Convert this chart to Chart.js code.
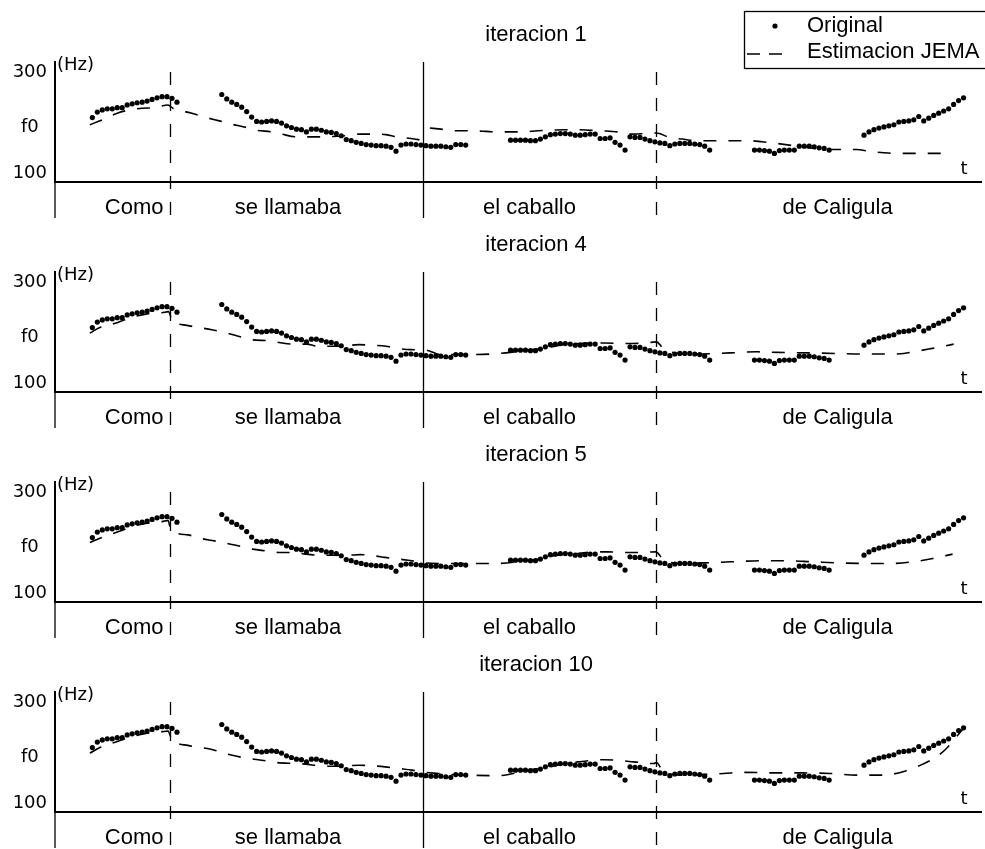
<!DOCTYPE html>
<html>
<head>
<meta charset="utf-8">
<script src="https://cdn.jsdelivr.net/npm/chart.js@4.4.0/dist/chart.umd.min.js"></script>
<style>
  body { margin: 0; background: #fff; width: 985px; height: 849px; overflow: hidden; position: relative; }
  canvas { position: absolute; left: 0; }
</style>
</head>
<body>
<canvas id="p0" width="985" height="226" style="top:0px"></canvas>
<canvas id="p1" width="985" height="210" style="top:226px"></canvas>
<canvas id="p2" width="985" height="210" style="top:436px"></canvas>
<canvas id="p3" width="985" height="210" style="top:646px"></canvas>
<script>
// frames (5 px each), f0 in Hz
var iterations = [1, 4, 5, 10];
var words = ['Como', 'se llamaba', 'el caballo', 'de Caligula'];
var wordCenters = [15.4, 46.3, 94.8, 156.7];
var wordBounds = [22.5, 73.5, 120.3];
var boundDashed = [true, false, true];
var yTicks = [100, 200, 300];
var yTickLabels = ['100', 'f0', '300'];

// original f0 contour, voiced segments
var origStarts = [7, 33, 91, 140, 162];
var origSeg1 = [217,227,231,233,233,235,235,240,242,244,245,247,250,253,255,255,252,245];
var origSeg2 = [259,251,245,241,236,228,218,210,209,210,211,210,207,202,199,196,195,191,196,196,
                194,191,190,188,184,177,175,172,170,168,167,166,166,165,163,156,167,169,169,168,
                167,166,165,165,165,164,163,168,168,167];
var origSeg3 = [176,176,176,176,175,175,178,182,186,187,188,188,187,185,185,186,187,187,179,179,
                180,172,167,158,182,181,181,178,175,173,171,170,166,169,170,170,170,169,168,165,158];
var origSeg4 = [158,158,157,156,152,157,158,158,158,165,165,165,164,162,161,158];
var origSeg5 = [185,191,195,198,200,202,204,209,210,211,213,219,211,216,221,225,229,233,241,248,253];

// JEMA estimate per iteration
var jemaT1 = [6.5,9,12,14,17,19.5,22.2,23.2,24.5,27,29.5,32.5,35,38,40,43,45,48,50.5,53.5,
              56,59,60.5,63,66,68,71,73.2,73.5,74.8,77,80.5,82.5,86,88,91,93,96.5,99,102,
              104,107,109.5,112.5,115,118,120.2,123,125.5,128.5,131,134,136,139,141.5,144.5,147,150,152,155,
              158,160.5,163,166,168,171,173.5,176.5,179.2];
var jemaF1 = [204,213,225,230,234,235,240,234,230,225,218,211,205,199,194,191,187,182,182,182,
              183,185,187,187,186,182,179,176,null,198,196,193,193,192,191,191,191,193,194,195,
              195,194,193,191,187,188,189,181,178,175,175,175,175,175,173,170,167,163,161,159,
              159,159,156,153,152,152,152,152,152];
var jemaT4 = [6.5,8.5,12,15,18,21,22.3,23,26,28.5,31,34,36.5,39,42.5,44.5,47.5,50,52.5,55,
              58,60.5,63,66,68.5,71,74,77,82,87,91,94,98,101,104.5,110,114,118,120.3,121.5,
              124,128.5,135,140.5,144.5,151,156.5,161,167,170,172.5,175,178,180];
var jemaF4 = [207,217,226,236,242,244,246,231,221,217,213,207,201,195,193,190,187,187,183,183,
              184,186,185,183,179,177,176,168,168,169,172,176,180,185,188,189,188,189,191,181,
              171,169,171,173,172,171,170,169,169,170,174,178,183,187];
var jemaT5 = [6.5,8.5,12,15,18,21,22.2,22.8,26.2,28.5,31.5,33.8,36.8,39.2,41.8,44.5,47.5,49.8,52.8,55.2,
              58.2,60.8,63.5,65.8,68.5,71.2,73.8,76.5,79.5,82.2,88,92.5,97.2,99.8,104.5,107.8,110.5,113.8,116.5,120.2,
              121.8,125.8,129.8,135.2,141.8,146.5,151.8,157.2,162.5,167.2,171.8,175.8,179.8];
var jemaF5 = [208,216,227,237,243,246,248,231,222,216,211,207,201,196,193,190,190,187,185,185,
              185,186,184,181,178,175,171,170,170,170,170,173,179,184,188,191,191,190,190,191,
              176,170,171,173,175,175,173,171,170,170,173,179,187];
var jemaT10 = [6.5,8.5,12,15,18,21,22.2,23,26.2,31.2,33.8,37.2,41.8,43.8,47.8,49.8,52.5,55.2,58.2,60.5,
               63.2,65.8,68.5,71.2,73.8,76.5,79.2,81.8,88.5,94.5,97.8,101,104.5,109.8,112.5,115.8,119.8,120.3,121.8,125.8,
               133.8,137.8,144.5,149.8,155.2,160.5,165.8,170.5,173.8,176.5,178.5,180.5,181.8];
var jemaF10 = [207,217,228,237,243,246,247,231,221,213,206,199,193,190,188,187,184,183,184,185,
               184,182,179,176,172,170,168,167,166,176,180,186,191,195,194,191,188,190,172,167,
               170,172,171,171,170,167,167,175,187,200,215,236,250];

var jemaTimes = [jemaT1, jemaT4, jemaT5, jemaT10];
var jemaValues = [jemaF1, jemaF4, jemaF5, jemaF10];

var origPoints = [];
[origSeg1, origSeg2, origSeg3, origSeg4, origSeg5].forEach(function(seg, k) {
  seg.forEach(function(v, i) { origPoints.push({x: origStarts[k] + i, y: v}); });
});

var decor = {
  id: 'decor',
  afterDraw: function(chart, args, opts) {
    var ctx = chart.ctx, a = chart.chartArea, xs = chart.scales.x;
    ctx.save();
    ctx.strokeStyle = '#000';
    ctx.fillStyle = '#000';
    ctx.lineWidth = 1.3;
    ctx.beginPath();
    ctx.moveTo(a.left, a.bottom);
    ctx.lineTo(a.left, a.bottom + 36);
    ctx.stroke();
    wordBounds.forEach(function(b, i) {
      var x = Math.round(xs.getPixelForValue(b)) + 0.5;
      ctx.setLineDash(boundDashed[i] ? [13, 13] : []);
      ctx.beginPath();
      ctx.moveTo(x, boundDashed[i] ? a.top + 10 : a.top);
      ctx.lineTo(x, a.bottom + 36);
      ctx.stroke();
    });
    ctx.setLineDash([]);

    ctx.font = '22px "Liberation Sans", Arial, sans-serif';
    ctx.textAlign = 'center';
    ctx.textBaseline = 'middle';
    ctx.fillText('iteracion ' + iterations[opts.panel], a.left + 481, a.top - 27);

    ctx.font = '18px "DejaVu Sans"';
    ctx.textAlign = 'left';
    ctx.fillText('(Hz)', a.left + 2, a.top + 3);
    ctx.textAlign = 'center';
    ctx.fillText('t', a.right - 17, a.bottom - 13);

    if (opts.panel === 0) {
      var ds = chart.data.datasets;
      ctx.lineWidth = 1.3;
      ctx.strokeRect(744.5, 11.5, 260, 57);
      ctx.beginPath();
      ctx.arc(775, 26, 2.6, 0, Math.PI * 2);
      ctx.fill();
      ctx.lineWidth = 1.6;
      ctx.setLineDash([13, 9]);
      ctx.beginPath();
      ctx.moveTo(747, 54);
      ctx.lineTo(782, 54);
      ctx.stroke();
      ctx.setLineDash([]);
      ctx.font = '22px "Liberation Sans", Arial, sans-serif';
      ctx.textAlign = 'left';
      ctx.fillText(ds[0].label, 807, 26);
      ctx.fillText(ds[1].label, 807, 52);
    }
    ctx.restore();
  }
};

iterations.forEach(function(it, p) {
  var jemaPoints = jemaTimes[p].map(function(t, i) { return {x: t, y: jemaValues[p][i]}; });
  new Chart(document.getElementById('p' + p), {
    type: 'line',
    data: {
      datasets: [
        {
          label: 'Original',
          data: origPoints,
          showLine: false,
          pointRadius: 2.6,
          pointBorderWidth: 0,
          pointBackgroundColor: '#000',
          borderColor: '#000'
        },
        {
          label: 'Estimacion JEMA',
          data: jemaPoints,
          borderColor: '#000',
          borderWidth: 1.6,
          borderDash: [13, 12],
          pointRadius: 0,
          cubicInterpolationMode: 'monotone',
          spanGaps: false,
          fill: false
        }
      ]
    },
    options: {
      responsive: false,
      animation: false,
      devicePixelRatio: 1,
      events: [],
      layout: { padding: { top: p === 0 ? 62 : 46, right: 0, left: 0, bottom: 0 } },
      plugins: {
        legend: { display: false },
        tooltip: { enabled: false },
        decor: { panel: p }
      },
      scales: {
        x: {
          type: 'linear',
          min: -0.5,
          max: 185.5,
          afterBuildTicks: function(s) { s.ticks = wordCenters.map(function(v) { return {value: v}; }); },
          afterFit: function(s) { s.height = 44; },
          grid: { display: false, drawTicks: false },
          border: { display: true, color: '#000', width: 2 },
          ticks: {
            autoSkip: false,
            maxRotation: 0,
            padding: 13,
            color: '#000',
            font: { family: 'Liberation Sans', size: 22 },
            callback: function(v, i) { return words[i]; }
          }
        },
        y: {
          min: 100,
          max: 318,
          afterBuildTicks: function(s) { s.ticks = yTicks.map(function(v) { return {value: v}; }); },
          afterFit: function(s) { s.width = 55; },
          grid: { display: false, drawTicks: false },
          border: { display: true, color: '#000', width: 2 },
          ticks: {
            crossAlign: 'center',
            padding: 8,
            color: '#000',
            font: { family: 'DejaVu Sans', size: 18, lineHeight: 1 },
            callback: function(v) {
              var lab = yTickLabels[yTicks.indexOf(v)];
              return v === 100 ? [lab, ''] : lab;
            }
          }
        }
      }
    },
    plugins: [decor]
  });
});
</script>
</body>
</html>
